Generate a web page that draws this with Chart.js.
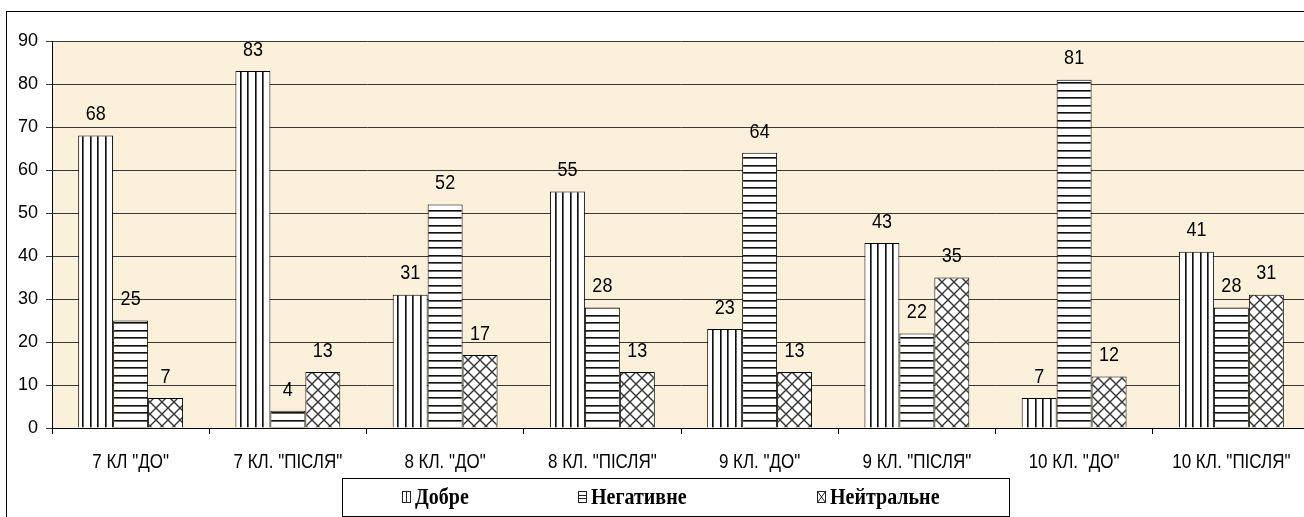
<!DOCTYPE html>
<html lang="uk">
<head>
<meta charset="utf-8">
<title>Ставлення учнів: до і після</title>
<script src="https://cdn.jsdelivr.net/npm/chart.js@4/dist/chart.umd.min.js"></script>
<style>
  html, body { margin: 0; padding: 0; background: #ffffff; overflow: hidden; }
  #wrap { position: relative; width: 1320px; height: 517px; }
</style>
</head>
<body>
<div id="wrap"><canvas id="chart" width="1320" height="517"></canvas></div>
<script>
// Categories (class, before/after) and values per attitude
const categories = ['7 КЛ "ДО"', '7 КЛ. "ПІСЛЯ"', '8 КЛ. "ДО"', '8 КЛ. "ПІСЛЯ"',
                    '9 КЛ. "ДО"', '9 КЛ. "ПІСЛЯ"', '10 КЛ. "ДО"', '10 КЛ. "ПІСЛЯ"'];
const seriesNames = ['Добре', 'Негативне', 'Нейтральне'];
const goodValues     = [68, 83, 31, 55, 23, 43, 7, 41];
const negativeValues = [25, 4, 52, 28, 64, 22, 81, 28];
const neutralValues  = [7, 13, 17, 13, 13, 35, 12, 31];
const yTicks = [0, 10, 20, 30, 40, 50, 60, 70, 80, 90];

const SANS = '"Liberation Sans", Arial, sans-serif';
const SERIF = '"Liberation Serif", "Times New Roman", serif';

// Hatch fills built on small tiles
function makeTile(w, h, draw) {
  const c = document.createElement('canvas');
  c.width = w; c.height = h;
  const g = c.getContext('2d');
  g.fillStyle = '#ffffff';
  g.fillRect(0, 0, w, h);
  draw(g, w, h);
  return c;
}
const ctx0 = document.getElementById('chart').getContext('2d');
const vertTile = makeTile(15, 15, (g, w, h) => {
  g.fillStyle = '#111'; g.fillRect(0, 0, 1, h); g.fillRect(7, 0, 1, h);
  g.fillStyle = '#666'; g.fillRect(1, 0, 1, h); g.fillRect(8, 0, 1, h);
});
const horizTile = makeTile(15, 15, (g, w, h) => {
  g.fillStyle = '#111'; g.fillRect(0, 0, w, 1); g.fillRect(0, 7, w, 1);
  g.fillStyle = '#666'; g.fillRect(0, 1, w, 1); g.fillRect(0, 8, w, 1);
});
const crossTile = makeTile(12, 12, (g, w, h) => {
  g.strokeStyle = '#333'; g.lineWidth = 1.4;
  g.beginPath();
  g.moveTo(-1, -1); g.lineTo(w + 1, h + 1);
  g.moveTo(w + 1, -1); g.lineTo(-1, h + 1);
  g.stroke();
});
const fills = [
  ctx0.createPattern(vertTile, 'repeat'),
  ctx0.createPattern(horizTile, 'repeat'),
  ctx0.createPattern(crossTile, 'repeat')
];

// Text drawn slightly taller than wide, like the narrow office fonts
function tallText(ctx, text, x, y, sy) {
  ctx.save();
  ctx.translate(x, y);
  ctx.scale(1, sy);
  ctx.fillText(text, 0, 0);
  ctx.restore();
}

// Plot background and outer frame
const frame = {
  id: 'frame',
  beforeDraw(chart) {
    const { ctx, chartArea: a } = chart;
    ctx.save();
    ctx.fillStyle = '#ffffff';
    ctx.fillRect(0, 0, chart.width, chart.height);
    ctx.fillStyle = '#fbf0d9';
    ctx.fillRect(a.left, a.top, a.right - a.left, a.bottom - a.top);
    ctx.strokeStyle = '#000';
    ctx.lineWidth = 1;
    ctx.strokeRect(6.5, 11.5, chart.width + 20, chart.height + 20);
    ctx.restore();
  }
};

// Category names under the axis
const categoryLabels = {
  id: 'categoryLabels',
  afterDraw(chart) {
    const { ctx } = chart;
    const xs = chart.scales.x;
    ctx.save();
    ctx.font = '17px ' + SANS;
    ctx.fillStyle = '#000';
    ctx.textAlign = 'center';
    ctx.textBaseline = 'middle';
    chart.data.labels.forEach((lab, i) => {
      tallText(ctx, lab, xs.getPixelForValue(i), 463, 1.15);
    });
    ctx.restore();
  }
};

// Value labels above each bar
const valueLabels = {
  id: 'valueLabels',
  afterDatasetsDraw(chart) {
    const { ctx } = chart;
    ctx.save();
    ctx.font = '18px ' + SANS;
    ctx.fillStyle = '#000';
    ctx.textAlign = 'center';
    ctx.textBaseline = 'middle';
    chart.data.datasets.forEach((ds, i) => {
      chart.getDatasetMeta(i).data.forEach((bar, j) => {
        tallText(ctx, String(ds.data[j]), bar.x, bar.y - 21, 1.15);
      });
    });
    ctx.restore();
  }
};

// Boxed legend under the axis
const boxLegend = {
  id: 'boxLegend',
  afterDraw(chart, args, opts) {
    const { ctx } = chart;
    const b = opts.box;
    ctx.save();
    ctx.strokeStyle = '#000';
    ctx.lineWidth = 1;
    ctx.strokeRect(b.x + 0.5, b.y + 0.5, b.w, b.h);
    ctx.font = 'bold 20px ' + SERIF;
    ctx.textBaseline = 'middle';
    const cy = b.y + b.h / 2;
    chart.data.datasets.forEach((ds, i) => {
      const x = opts.itemX[i];
      const ix = x + 0.5, iy = Math.round(cy - 6) + 0.5, iw = 8, ih = 11;
      ctx.fillStyle = '#fff';
      ctx.fillRect(ix, iy, iw, ih);
      ctx.strokeStyle = '#222';
      ctx.lineWidth = 1;
      ctx.beginPath();
      if (i === 0) {
        ctx.moveTo(ix + 4, iy); ctx.lineTo(ix + 4, iy + ih);
      } else if (i === 1) {
        ctx.moveTo(ix, iy + 4); ctx.lineTo(ix + iw, iy + 4);
        ctx.moveTo(ix, iy + 7); ctx.lineTo(ix + iw, iy + 7);
      } else {
        ctx.moveTo(ix, iy); ctx.lineTo(ix + iw, iy + ih);
        ctx.moveTo(ix + iw, iy); ctx.lineTo(ix, iy + ih);
      }
      ctx.stroke();
      ctx.strokeRect(ix, iy, iw, ih);
      ctx.fillStyle = '#000';
      tallText(ctx, ds.label, x + 13, cy + 1, 1.12);
    });
    ctx.restore();
  }
};

new Chart(document.getElementById('chart'), {
  type: 'bar',
  data: {
    labels: categories,
    datasets: [goodValues, negativeValues, neutralValues].map((vals, i) => ({
      label: seriesNames[i],
      data: vals,
      backgroundColor: fills[i],
      borderColor: '#000',
      borderWidth: 1,
      categoryPercentage: 0.667,
      barPercentage: 1.0
    }))
  },
  options: {
    responsive: false,
    animation: false,
    events: [],
    layout: { padding: { left: 0, top: 41, right: 10, bottom: 0 } },
    plugins: {
      legend: { display: false },
      tooltip: { enabled: false },
      boxLegend: { box: { x: 342, y: 478, w: 667, h: 38 }, itemX: [402, 578, 817] }
    },
    scales: {
      x: {
        afterFit(scale) { scale.height = 89; },
        grid: { drawOnChartArea: false, tickLength: 6, color: '#000', offset: true },
        border: { color: '#000', width: 1 },
        ticks: { display: false, autoSkip: false }
      },
      y: {
        min: 0,
        max: 90,
        afterFit(scale) { scale.width = 52; },
        afterBuildTicks(scale) { scale.ticks = yTicks.map(v => ({ value: v })); },
        grid: { color: '#383838', lineWidth: 1, tickLength: 6 },
        border: { color: '#000', width: 1 },
        ticks: {
          color: '#000',
          padding: 8,
          font: { family: SANS, size: 18 }
        }
      }
    }
  },
  plugins: [frame, categoryLabels, valueLabels, boxLegend]
});
</script>
</body>
</html>
